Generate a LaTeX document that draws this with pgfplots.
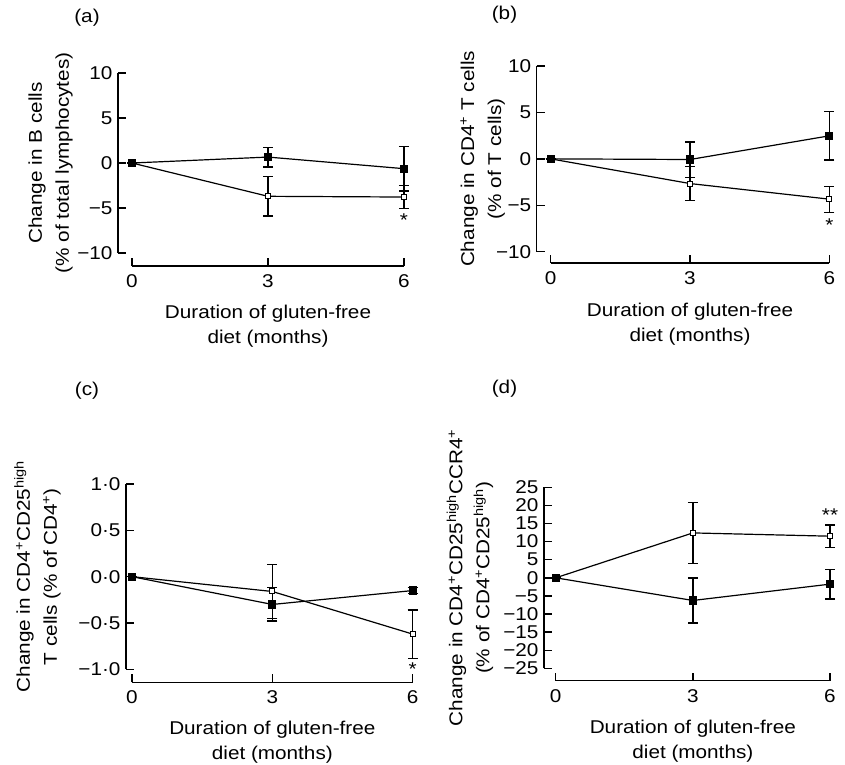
\documentclass[border=0pt]{standalone}
\usepackage{fontspec}
\setmainfont{Liberation Sans}[FakeStretch=1.12]
\usepackage{pgfplots}
\pgfplotsset{compat=1.18}

\pgfplotsset{
  gfd/.style={
    scale only axis,
    xmin=0, xmax=6,
    axis x line*=bottom, axis y line*=left,
    axis line style={-, line width=1.4pt},
    hide obscured x ticks=false, hide obscured y ticks=false,
    xtick={0,3,6}, xticklabels={0,3,6},
    tick align=inside,
    major tick length=8pt,
    tick style={line width=1.4pt, black},
    tick label style={font=\fontsize{18.5}{21}\selectfont},
    xticklabel style={yshift=-5pt},
    yticklabel style={xshift=-2pt},
    xlabel={Duration of gluten-free\\diet (months)},
    every axis x label/.style={at={(axis description cs:0.5,0)}, anchor=center, yshift=-73pt,
      font=\fontsize{18.5}{25}\selectfont, align=center},
    clip=false,
  },
  ylab/.style={every axis y label/.style={at={(axis description cs:0,0.5)}, xshift=#1, rotate=90,
      anchor=center, font=\fontsize{18.5}{27}\selectfont, align=center}},
  filled/.style={black, line width=1.2pt, mark=square*, mark size=3.5pt,
    mark options={solid, fill=black},
    error bars/.cd, y dir=both, y explicit,
    error bar style={line width=1.3pt, black},
    error mark options={black, line width=1.3pt, mark size=5pt, rotate=90}},
  open/.style={black, line width=1.2pt, mark=square*, mark size=2.5pt,
    mark options={solid, fill=white, line width=1pt},
    error bars/.cd, y dir=both, y explicit,
    error bar style={line width=1.3pt, black},
    error mark options={black, line width=1.3pt, mark size=5pt, rotate=90}},
}

\begin{document}
\begin{tikzpicture}
\useasboundingbox (0,0) rectangle (845pt,-764pt);
\tikzset{every node/.append style={font=\fontsize{18.5}{21}\selectfont}}

% (a) B cells
\node at (87pt,-18pt) {(a)};
\begin{axis}[gfd, at={(132pt,-253pt)}, anchor=south west,
  width=272pt, height=180pt,
  axis x line shift=13pt, axis y line shift=14pt,
  ymin=-10, ymax=10, ytick={-10,-5,0,5,10},
  yticklabels={−10,−5,0,5,10},
  ylabel={Change in B cells\\(\% of total lymphocytes)}, ylab=-81.5pt]
\addplot[open] coordinates {(0,0) +- (0,0) (3,-3.7) +- (0,2.2) (6,-3.78) +- (0,1.27)};
\addplot[filled] coordinates {(0,0) +- (0,0) (3,0.66) +- (0,1.1) (6,-0.63) +- (0,2.48)};
\node at (axis cs:6,-6.4) {*};
\end{axis}

% (b) CD4+ T cells
\node at (504.5pt,-15pt) {(b)};
\begin{axis}[gfd, at={(550.7pt,-251.7pt)}, anchor=south west,
  width=278.6pt, height=185.7pt,
  axis x line shift=11.3pt, axis y line shift=14pt,
  ymin=-10, ymax=10, ytick={-10,-5,0,5,10},
  yticklabels={−10,−5,0,5,10},
  ylabel={Change in CD4\textsuperscript{+} T cells\\(\% of T cells)}, ylab=-68pt]
\addplot[open] coordinates {(0,0) +- (0,0) (3,-2.66) +- (0,1.8) (6,-4.34) +- (0,1.4)};
\addplot[filled] coordinates {(0,0) +- (0,0) (3,-0.07) +- (0,1.9) (6,2.48) +- (0,2.6)};
\node at (axis cs:6,-7.1) {*};
\end{axis}

% (c) CD4+CD25high T cells
\node at (87pt,-390.5pt) {(c)};
\begin{axis}[gfd, at={(132pt,-669.3pt)}, anchor=south west,
  width=280.7pt, height=185.3pt,
  axis x line shift=13pt, axis y line shift=6pt,
  ymin=-1, ymax=1, ytick={-1,-0.5,0,0.5,1},
  yticklabels={−1·0,−0·5,0·0,0·5,1·0},
  ylabel={Change in CD4\textsuperscript{+}CD25\textsuperscript{high}\\T cells (\% of CD4\textsuperscript{+})}, ylab=-94.5pt]
\addplot[open] coordinates {(0,0) +- (0,0) (3,-0.16) +- (0,0.29) (6,-0.62) +- (0,0.26)};
\addplot[filled] coordinates {(0,0) +- (0,0) (3,-0.30) +- (0,0.18) (6,-0.15) +- (0,0.03)};
\node at (axis cs:6,-1.0) {*};
\end{axis}

% (d) CD4+CD25highCCR4+
\node at (504.5pt,-389pt) {(d)};
\begin{axis}[gfd, at={(555.7pt,-668.3pt)}, anchor=south west,
  width=274.3pt, height=181pt,
  axis x line shift=12.4pt, axis y line shift=11.7pt,
  ymin=-25, ymax=25, ytick={-25,-20,...,25},
  yticklabels={−25,−20,−15,−10,−5,0,5,10,15,20,25},
  ylabel={Change in CD4\textsuperscript{+}CD25\textsuperscript{high}CCR4\textsuperscript{+}\\(\% of CD4\textsuperscript{+}CD25\textsuperscript{high})}, ylab=-85.7pt]
\addplot[open] coordinates {(0,0) +- (0,0) (3,12.4) +- (0,8.4) (6,11.5) +- (0,3.1)};
\addplot[filled] coordinates {(0,0) +- (0,0) (3,-6.26) +- (0,6.2) (6,-1.75) +- (0,4.1)};
\node at (axis cs:6,17.4) {**};
\end{axis}
\end{tikzpicture}
\end{document}
